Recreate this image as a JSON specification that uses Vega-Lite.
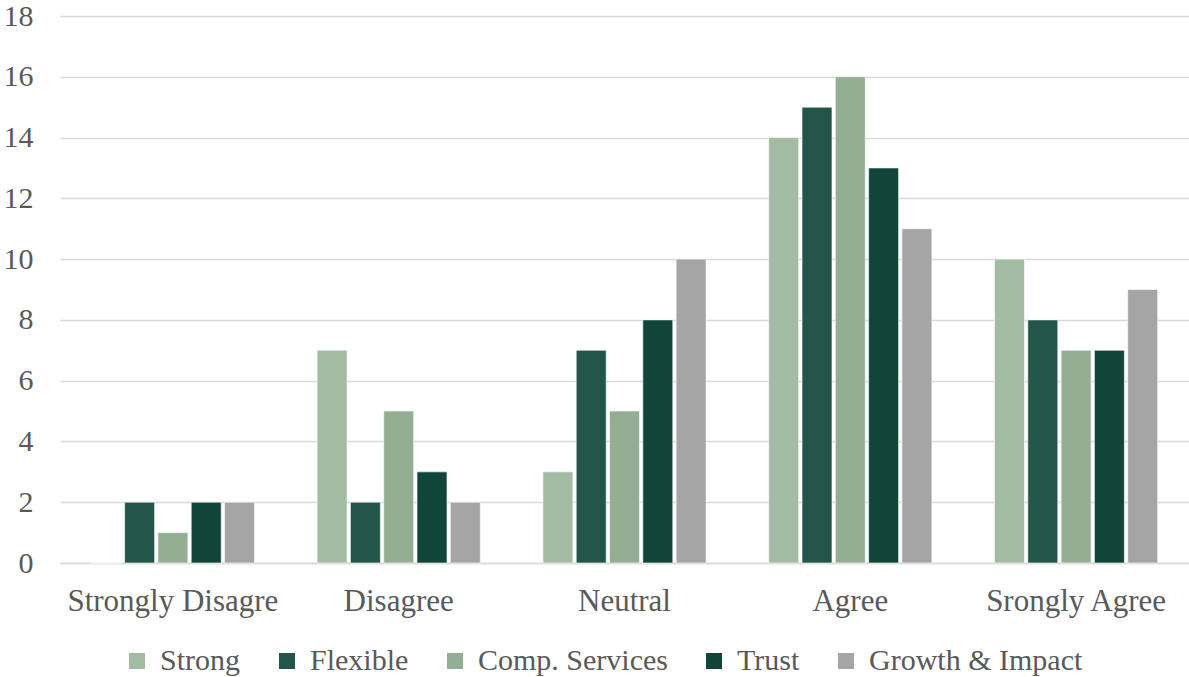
{
  "$schema": "https://vega.github.io/schema/vega-lite/v6.json",
  "width": 1129,
  "height": 547,
  "autosize": {"type": "none"},
  "padding": {"left": 60, "top": 16, "right": 0, "bottom": 114},
  "background": "white",
  "config": {
    "view": {"stroke": null},
    "font": "Liberation Serif"
  },
  "data": {
    "values": [
      {"cat": "Strongly Disagre", "series": "Strong", "value": 0},
      {"cat": "Strongly Disagre", "series": "Flexible", "value": 2},
      {"cat": "Strongly Disagre", "series": "Comp. Services", "value": 1},
      {"cat": "Strongly Disagre", "series": "Trust", "value": 2},
      {"cat": "Strongly Disagre", "series": "Growth & Impact", "value": 2},
      {"cat": "Disagree", "series": "Strong", "value": 7},
      {"cat": "Disagree", "series": "Flexible", "value": 2},
      {"cat": "Disagree", "series": "Comp. Services", "value": 5},
      {"cat": "Disagree", "series": "Trust", "value": 3},
      {"cat": "Disagree", "series": "Growth & Impact", "value": 2},
      {"cat": "Neutral", "series": "Strong", "value": 3},
      {"cat": "Neutral", "series": "Flexible", "value": 7},
      {"cat": "Neutral", "series": "Comp. Services", "value": 5},
      {"cat": "Neutral", "series": "Trust", "value": 8},
      {"cat": "Neutral", "series": "Growth & Impact", "value": 10},
      {"cat": "Agree", "series": "Strong", "value": 14},
      {"cat": "Agree", "series": "Flexible", "value": 15},
      {"cat": "Agree", "series": "Comp. Services", "value": 16},
      {"cat": "Agree", "series": "Trust", "value": 13},
      {"cat": "Agree", "series": "Growth & Impact", "value": 11},
      {"cat": "Srongly Agree", "series": "Strong", "value": 10},
      {"cat": "Srongly Agree", "series": "Flexible", "value": 8},
      {"cat": "Srongly Agree", "series": "Comp. Services", "value": 7},
      {"cat": "Srongly Agree", "series": "Trust", "value": 7},
      {"cat": "Srongly Agree", "series": "Growth & Impact", "value": 9}
    ]
  },
  "mark": {"type": "bar", "stroke": "#ffffff", "strokeWidth": 0.6},
  "encoding": {
    "x": {
      "field": "cat",
      "type": "nominal",
      "sort": ["Strongly Disagre", "Disagree", "Neutral", "Agree", "Srongly Agree"],
      "scale": {"paddingInner": 0, "paddingOuter": 0},
      "axis": {
        "title": null,
        "labelAngle": 0,
        "labelFont": "Liberation Serif",
        "labelFontSize": 31,
        "labelColor": "#595959",
        "labelPadding": 23,
        "labelLimit": 400,
        "ticks": false,
        "domain": true,
        "domainColor": "#D9D9D9",
        "domainWidth": 1.5,
        "grid": false
      }
    },
    "xOffset": {
      "field": "series",
      "type": "nominal",
      "sort": ["Strong", "Flexible", "Comp. Services", "Trust", "Growth & Impact"],
      "scale": {"paddingInner": 0.1, "paddingOuter": 0.94}
    },
    "y": {
      "field": "value",
      "type": "quantitative",
      "scale": {"domain": [0, 18], "nice": false},
      "axis": {
        "title": null,
        "values": [0, 2, 4, 6, 8, 10, 12, 14, 16, 18],
        "labelFont": "Liberation Serif",
        "labelFontSize": 30,
        "labelColor": "#595959",
        "labelPadding": 27,
        "ticks": false,
        "domain": false,
        "grid": true,
        "gridColor": "#D9D9D9",
        "gridWidth": 1.5
      }
    },
    "color": {
      "field": "series",
      "type": "nominal",
      "sort": ["Strong", "Flexible", "Comp. Services", "Trust", "Growth & Impact"],
      "scale": {
        "domain": ["Strong", "Flexible", "Comp. Services", "Trust", "Growth & Impact"],
        "range": ["#A3BBA3", "#23554A", "#93AE93", "#12453A", "#A5A5A5"]
      },
      "legend": {
        "title": null,
        "orient": "none",
        "legendX": 62,
        "legendY": 630,
        "direction": "horizontal",
        "labelFont": "Liberation Serif",
        "labelFontSize": 30,
        "labelColor": "#595959",
        "symbolType": "square",
        "symbolSize": 256,
        "symbolStrokeWidth": 0,
        "labelOffset": 8,
        "columnPadding": 31,
        "labelLimit": 400
      }
    }
  }
}
